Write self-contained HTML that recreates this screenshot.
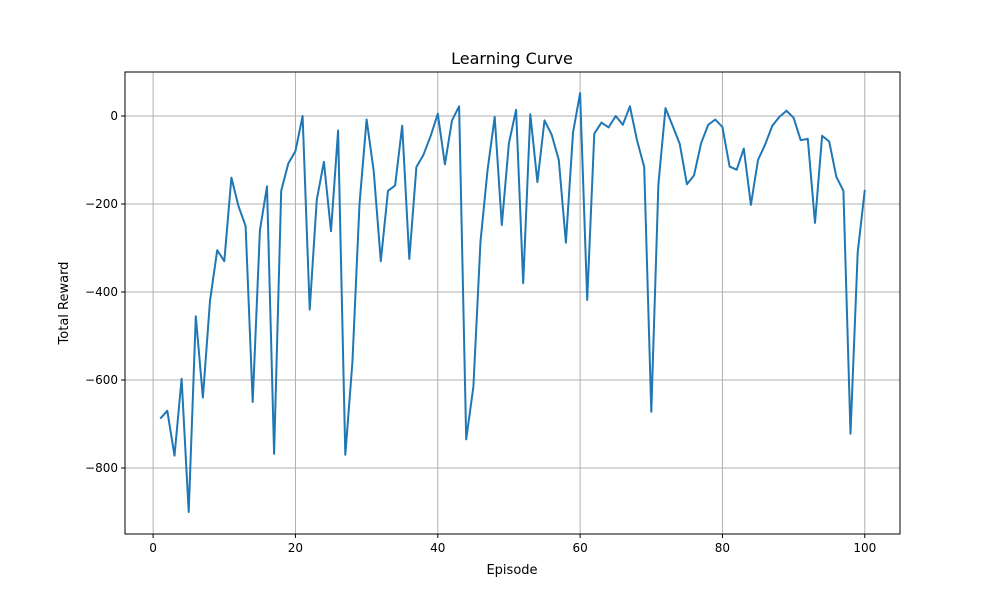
<!DOCTYPE html>
<html><head><meta charset="utf-8"><style>body{margin:0;background:#fff}svg{display:block;font-family:"DejaVu Sans","Liberation Sans",sans-serif}</style></head>
<body>
<svg id="chart" width="1000" height="600">
<rect width="1000" height="600" fill="#fff"/>
<g id="grid"></g>
<g id="ticks"></g>
<path id="line" fill="none" stroke="#1f77b4" stroke-width="2" stroke-linejoin="round"/>
<rect x="125" y="72" width="775" height="462" fill="none" stroke="#000" stroke-width="1"/>
<text x="512" y="64" text-anchor="middle" font-size="16">Learning Curve</text>
<text x="512" y="574" text-anchor="middle" font-size="13">Episode</text>
<text x="68" y="303" text-anchor="middle" font-size="13" transform="rotate(-90 68 303)">Total Reward</text>
</svg>
<script>
const rewards=[-688,-670,-772,-597,-900,-455,-640,-420,-305,-330,-140,-205,-250,-650,-260,-160,-768,-170,-108,-80,0,-440,-190,-104,-262,-33,-770,-560,-200,-8,-125,-330,-170,-158,-22,-325,-116,-88,-45,5,-110,-10,22,-735,-615,-285,-122,-2,-248,-62,14,-380,4,-150,-10,-42,-100,-288,-38,52,-418,-40,-15,-26,0,-20,22,-55,-116,-672,-155,18,-22,-63,-155,-135,-62,-20,-8,-25,-115,-122,-74,-202,-100,-65,-22,-2,12,-4,-55,-52,-243,-45,-58,-138,-170,-722,-310,-168];
const xTicks=[0,20,40,60,80,100];
const yTicks=[0,-200,-400,-600,-800];
const L=125,R=900,T=72,B=534,x0=-3.95,x1=104.95,y0=-950,y1=100;
const sx=v=>L+(v-x0)/(x1-x0)*(R-L);
const sy=v=>B-(v-y0)/(y1-y0)*(B-T);
const NS='http://www.w3.org/2000/svg';
const grid=document.getElementById('grid'),ticks=document.getElementById('ticks');
function mk(tag,attrs,parent){const e=document.createElementNS(NS,tag);for(const k in attrs)e.setAttribute(k,attrs[k]);parent.appendChild(e);return e;}
xTicks.forEach(t=>{const x=sx(t);
 const g=mk('line',{x1:x,x2:x,y1:T,y2:B,stroke:'#b0b0b0','stroke-width':1},grid);
 
 
 const tk=mk('line',{x1:x,x2:x,y1:B,y2:B+4,stroke:'#000'},ticks);
 
 
 const tx=mk('text',{x:x,y:B+18,'text-anchor':'middle','font-size':12},ticks);tx.textContent=t;
 
 
});
yTicks.forEach(t=>{const y=sy(t);
 const g=mk('line',{x1:L,x2:R,y1:y,y2:y,stroke:'#b0b0b0','stroke-width':1},grid);
 
 
 const tk=mk('line',{x1:L-4,x2:L,y1:y,y2:y,stroke:'#000'},ticks);
 
 
 const tx=mk('text',{x:L-7,y:y+4,'text-anchor':'end','font-size':12},ticks);tx.textContent=t===0?'0':'\u2212'+Math.abs(t);
 
 
});
document.getElementById('line').setAttribute('d',rewards.map((v,i)=>(i?'L':'M')+sx(i+1).toFixed(1)+','+sy(v).toFixed(1)).join(''));
</script>
</body></html>
